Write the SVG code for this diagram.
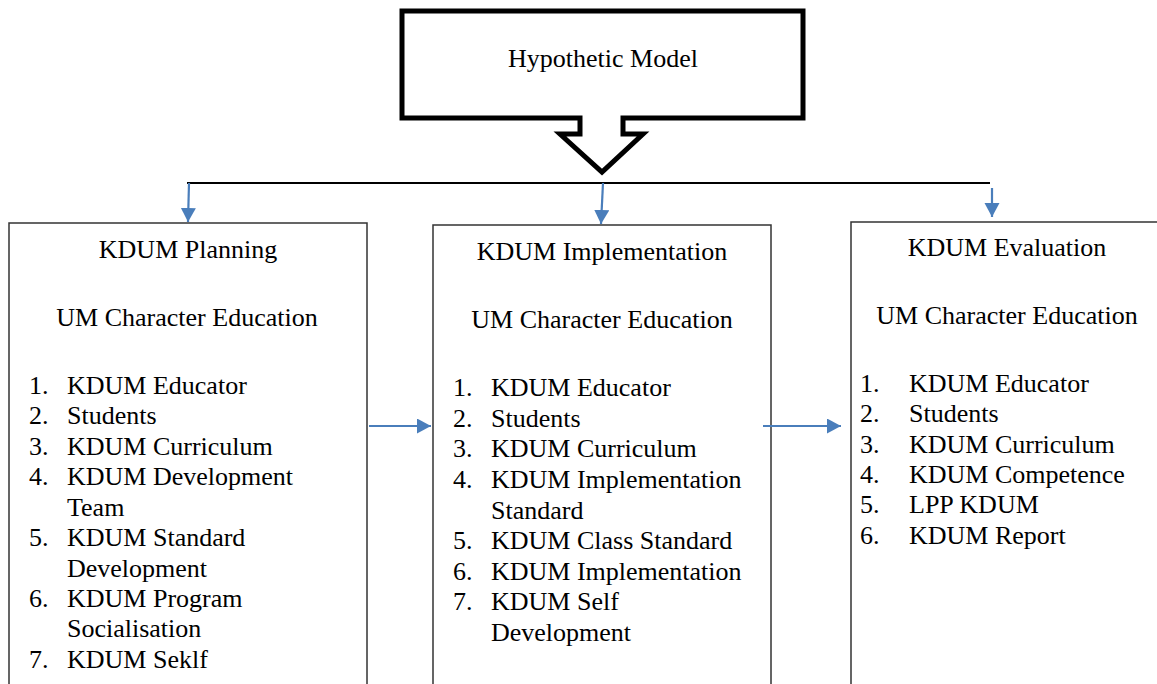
<svg xmlns="http://www.w3.org/2000/svg" width="1157" height="684" viewBox="0 0 1157 684" font-family="'Liberation Serif', 'DejaVu Serif', serif">
<style>
text{font-size:26px;fill:#000}
.c{text-anchor:middle}
.box{fill:#fff;stroke:#333;stroke-width:1.5}
.blue{stroke:#4a7ebb;stroke-width:2.2;fill:none}
</style>
<defs>
<marker id="ah" markerUnits="userSpaceOnUse" markerWidth="14" markerHeight="16" refX="14" refY="7.5" orient="auto">
<path d="M0,0 L14,7.5 L0,15 z" fill="#4a7ebb"/>
</marker>
</defs>
<rect width="1157" height="684" fill="#fff"/>
<g id="hypothetic-model">
<path d="M402,11 H803 V118 H623 V134 H643 L602,172 L560,134 H580 V118 H402 Z" fill="#fff" stroke="#000" stroke-width="5"/>
<text class="c" x="603" y="67" style="font-family:'Liberation Serif',serif">Hypothetic Model</text>
</g>
<g id="planning" font-family="Liberation Serif">
<rect class="box" x="9" y="223" width="358" height="480"/>
<text class="c" x="188" y="258">KDUM Planning</text>
<text class="c" x="187" y="326">UM Character Education</text>
<text x="29" y="394">1.</text><text x="67" y="394">KDUM Educator</text>
<text x="29" y="424">2.</text><text x="67" y="424">Students</text>
<text x="29" y="455">3.</text><text x="67" y="455">KDUM Curriculum</text>
<text x="29" y="485">4.</text><text x="67" y="485">KDUM Development</text>
<text x="67" y="516">Team</text>
<text x="29" y="546">5.</text><text x="67" y="546">KDUM Standard</text>
<text x="67" y="577">Development</text>
<text x="29" y="607">6.</text><text x="67" y="607">KDUM Program</text>
<text x="67" y="637">Socialisation</text>
<text x="29" y="668">7.</text><text x="67" y="668">KDUM Seklf</text>
</g>
<g id="implementation" font-family="'Liberation Serif', serif">
<rect class="box" x="433" y="225" width="338" height="480"/>
<text class="c" x="602" y="260">KDUM Implementation</text>
<text class="c" x="602" y="328">UM Character Education</text>
<text x="453" y="396">1.</text><text x="491" y="396">KDUM Educator</text>
<text x="453" y="427">2.</text><text x="491" y="427">Students</text>
<text x="453" y="457">3.</text><text x="491" y="457">KDUM Curriculum</text>
<text x="453" y="488">4.</text><text x="491" y="488">KDUM Implementation</text>
<text x="491" y="519">Standard</text>
<text x="453" y="549">5.</text><text x="491" y="549">KDUM Class Standard</text>
<text x="453" y="580">6.</text><text x="491" y="580">KDUM Implementation</text>
<text x="453" y="610">7.</text><text x="491" y="610">KDUM Self</text>
<text x="491" y="641">Development</text>
</g>
<g id="evaluation" font-family="'Liberation Serif', serif">
<rect class="box" x="851" y="222" width="320" height="480"/>
<text class="c" x="1007" y="256">KDUM Evaluation</text>
<text class="c" x="1007" y="324">UM Character Education</text>
<text x="860" y="392">1.</text><text x="909" y="392">KDUM Educator</text>
<text x="860" y="422">2.</text><text x="909" y="422">Students</text>
<text x="860" y="453">3.</text><text x="909" y="453">KDUM Curriculum</text>
<text x="860" y="483">4.</text><text x="909" y="483">KDUM Competence</text>
<text x="860" y="513">5.</text><text x="909" y="513">LPP KDUM</text>
<text x="860" y="544">6.</text><text x="909" y="544">KDUM Report</text>
</g>
<g id="connectors">
<line x1="187" y1="183" x2="990" y2="183" stroke="#000" stroke-width="2"/>
<line class="blue" x1="189" y1="183" x2="188" y2="222" marker-end="url(#ah)"/>
<line class="blue" x1="603" y1="183" x2="601" y2="224" marker-end="url(#ah)"/>
<line class="blue" x1="992" y1="188" x2="992" y2="217" marker-end="url(#ah)"/>
<line class="blue" x1="369" y1="426" x2="431" y2="426" marker-end="url(#ah)"/>
<line class="blue" x1="763" y1="426" x2="841" y2="426" marker-end="url(#ah)"/>
</g>
</svg>
